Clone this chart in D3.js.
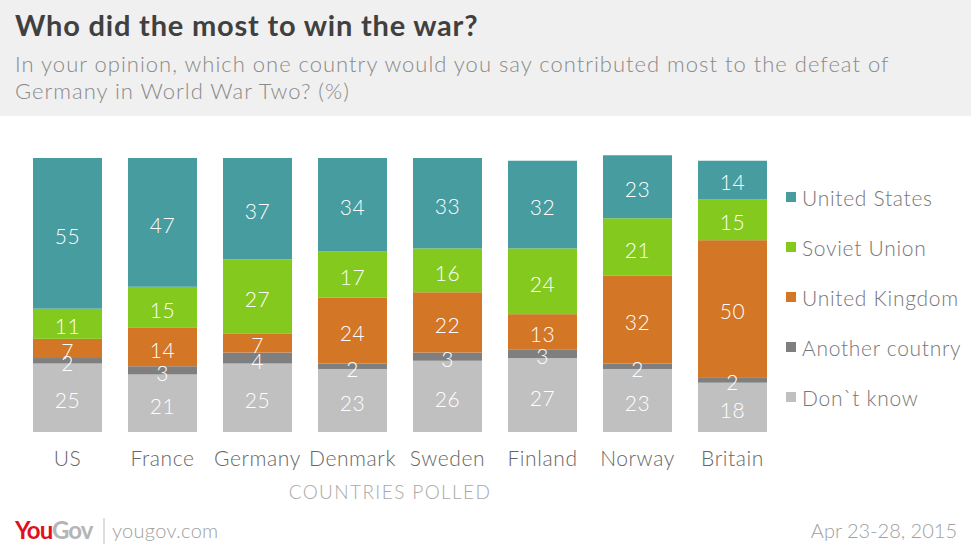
<!DOCTYPE html>
<html><head><meta charset="utf-8">
<script src="https://cdn.jsdelivr.net/npm/d3@7"></script>
<style>body{margin:0;background:#fff}svg{display:block}text{font-family:Lato,"Open Sans",sans-serif}</style>
</head><body><svg id="c" width="971" height="551"></svg>
<script>
const countries = ["US","France","Germany","Denmark","Sweden","Finland","Norway","Britain"];
const seriesNames = ["United States","Soviet Union","United Kingdom","Another coutnry","Don`t know"];
const unitedStates = [55,47,37,34,33,32,23,14];
const sovietUnion = [11,15,27,17,16,24,21,15];
const unitedKingdom = [7,14,7,24,22,13,32,50];
const anotherCountry = [2,3,4,2,3,3,2,2];
const dontKnow = [25,21,25,23,26,27,23,18];
const colors = ["#469c9e","#84c91e","#d37626","#7f7f7f","#c0c0c0"];

const seriesValues = [unitedStates,sovietUnion,unitedKingdom,anotherCountry,dontKnow];
const keys = ["s0","s1","s2","s3","s4"];
const rows = countries.map((c,i)=>{const r={country:c};keys.forEach((k,j)=>r[k]=seriesValues[j][i]);return r;});
const stackOrder = [4,3,2,1,0];
const stack = d3.stack().keys(stackOrder.map(j=>keys[j]));
const stacked = stack(rows);

const svg = d3.select("#c");
svg.append("rect").attr("x",0).attr("y",0).attr("width",971).attr("height",116).attr("fill","#f0f0f0");
svg.append("text").attr("x",15).attr("y",36).attr("font-size",29).attr("font-weight",700).attr("letter-spacing",0.8).attr("fill","#404040").text("Who did the most to win the war?");
svg.append("text").attr("x",15).attr("y",72).attr("font-size",22).attr("font-weight",300).attr("letter-spacing",1).attr("fill","#8a8a8a").text("In your opinion, which one country would you say contributed most to the defeat of");
svg.append("text").attr("x",15).attr("y",99).attr("font-size",22).attr("font-weight",300).attr("letter-spacing",1).attr("fill","#8a8a8a").text("Germany in World War Two? (%)");

const x = d3.scaleBand().domain(countries).range([20,780]).paddingInner(0.2737).paddingOuter(0.1368);
const y = d3.scaleLinear().domain([0,100]).range([432,158]);

const g = svg.append("g");
stacked.forEach((layer,li)=>{
  const sIdx = stackOrder[li];
  g.append("g").selectAll("rect").data(layer).join("rect")
    .attr("x",d=>x(d.data.country)).attr("width",x.bandwidth())
    .attr("y",d=>y(d[1])).attr("height",d=>y(d[0])-y(d[1]))
    .attr("fill",colors[sIdx]);
});
stacked.forEach((layer,li)=>{
  g.append("g").selectAll("text").data(layer).join("text")
    .attr("x",d=>x(d.data.country)+x.bandwidth()/2)
    .attr("y",d=>(y(d[0])+y(d[1]))/2+2)
    .attr("text-anchor","middle").attr("dominant-baseline","central")
    .attr("font-size",21).attr("font-weight",300).attr("letter-spacing",0.5).attr("fill","#fff")
    .text(d=>d[1]-d[0]);
});

const xAxis = d3.axisBottom(x).tickSize(0).tickPadding(0);
const ax = svg.append("g").attr("transform","translate(0,466)").call(xAxis);
ax.select(".domain").remove();
ax.selectAll("text").attr("font-size",21).attr("font-weight",300).attr("letter-spacing",0.6).attr("fill","#666").attr("dy",0).attr("y",0).style("font-family","Lato, sans-serif");
svg.append("text").attr("x",390).attr("y",499).attr("text-anchor","middle").attr("font-size",19).attr("font-weight",300).attr("letter-spacing",1.4).attr("fill","#a8a8a8").text("COUNTRIES POLLED");

const leg = svg.append("g");
seriesNames.forEach((n,i)=>{
  const ly = 197 + i*50;
  leg.append("rect").attr("x",786).attr("y",ly-5).attr("width",10).attr("height",10).attr("fill",colors[i]);
  leg.append("text").attr("x",802).attr("y",ly).attr("dominant-baseline","central").attr("font-size",21).attr("font-weight",300).attr("letter-spacing",0.7).attr("fill","#777").text(n);
});

const f = svg.append("text").attr("x",15).attr("y",539).attr("font-size",24).attr("font-weight",700).attr("letter-spacing",-1);
f.append("tspan").attr("fill","#e0101f").text("You");
f.append("tspan").attr("fill","#b5b5b5").text("Gov");
svg.append("line").attr("x1",104).attr("x2",104).attr("y1",518).attr("y2",544).attr("stroke","#bbb").attr("stroke-width",1);
svg.append("text").attr("x",112).attr("y",538).attr("font-size",20).attr("font-weight",300).attr("letter-spacing",0.3).attr("fill","#a0a0a0").text("yougov.com");
svg.append("text").attr("x",957).attr("y",538).attr("text-anchor","end").attr("font-size",20).attr("font-weight",300).attr("fill","#a0a0a0").text("Apr 23-28, 2015");
</script></body></html>
